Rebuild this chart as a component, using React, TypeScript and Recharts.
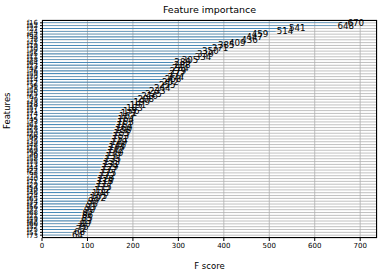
import React from 'react';
import { BarChart, Bar, XAxis, YAxis, CartesianGrid, LabelList } from 'recharts';

const featureNames = [
  'f16', 'f52', 'f27', 'f4', 'f62', 'f33', 'f8', 'f41', 'f19', 'f70',
  'f2', 'f55', 'f11', 'f38', 'f64', 'f23', 'f47', 'f6', 'f59', 'f30',
  'f14', 'f72', 'f36', 'f1', 'f50', 'f25', 'f67', 'f9', 'f43', 'f18',
  'f57', 'f31', 'f74', 'f12', 'f45', 'f3', 'f61', 'f28', 'f53', 'f20',
  'f66', 'f7', 'f39', 'f48', 'f15', 'f69', 'f26', 'f0', 'f58', 'f35',
  'f13', 'f44', 'f22', 'f63', 'f5', 'f40', 'f71', 'f29', 'f54', 'f10',
  'f46', 'f24', 'f65', 'f34', 'f17', 'f56', 'f37', 'f68', 'f21', 'f49',
  'f42', 'f60', 'f32', 'f75', 'f51', 'f73',
];

const fScores = [
  670, 648, 541, 514, 459, 447, 436, 409, 385, 371,
  350, 339, 334, 305, 289, 288, 284, 279, 277, 274,
  268, 262, 255, 244, 233, 225, 216, 208, 199, 191,
  183, 176, 171, 167, 164, 163, 161, 160, 158, 155,
  153, 151, 149, 146, 144, 142, 140, 137, 135, 133,
  131, 129, 127, 125, 122, 120, 118, 117, 115, 112,
  108, 105, 102, 99, 96, 93, 90, 87, 86, 85,
  83, 80, 76, 72, 68, 64,
];

const xTicks = [0, 100, 200, 300, 400, 500, 600, 700];

const data = featureNames.map((name, i) => ({ name, score: fScores[i] }));

const font = 'DejaVu Sans';

export default function App() {
  return (
    <div style={{ position: 'absolute', left: 0, top: 0, width: 387, height: 276, background: '#fff', fontFamily: font }}>
      <div style={{ position: 'absolute', left: 42, width: 335, top: 4, textAlign: 'center', fontSize: 9.5, lineHeight: '12px', color: '#000' }}>
        Feature importance
      </div>
      <BarChart
        width={387}
        height={276}
        data={data}
        layout="vertical"
        margin={{ top: 20, right: 10, bottom: 0, left: 0 }}
        barCategoryGap={0}
        style={{ fontFamily: font }}
      >
        <XAxis
          type="number"
          dataKey="score"
          domain={[0, 737]}
          ticks={xTicks}
          height={38}
          tickSize={3}
          axisLine={false}
          tick={{ fontSize: 7, fill: '#000' }}
          tickLine={{ stroke: '#000' }}
          allowDataOverflow
          label={{ value: 'F score', position: 'insideBottom', offset: 7, fontSize: 8.5, fill: '#000' }}
        />
        <YAxis
          type="category"
          dataKey="name"
          width={42}
          interval={0}
          tickSize={2}
          padding={{ top: 1.4, bottom: 1.4 }}
          axisLine={false}
          tick={{ fontSize: 7, fill: '#000' }}
          tickLine={{ stroke: '#000' }}
          label={{ value: 'Features', angle: -90, position: 'insideLeft', offset: 7, fontSize: 8.5, fill: '#000' }}
        />
        <Bar dataKey="score" fill="#1f77b4" barSize={0.6} isAnimationActive={false}>
          <LabelList dataKey="score" position="right" offset={1} fontSize={8.7} fill="#000" />
        </Bar>
        <CartesianGrid stroke="#b0b0b0" strokeWidth={0.8} />
      </BarChart>
      <div style={{ position: 'absolute', left: 42, top: 20, width: 335, height: 218, border: '1px solid #000', boxSizing: 'border-box', pointerEvents: 'none' }} />
    </div>
  );
}
